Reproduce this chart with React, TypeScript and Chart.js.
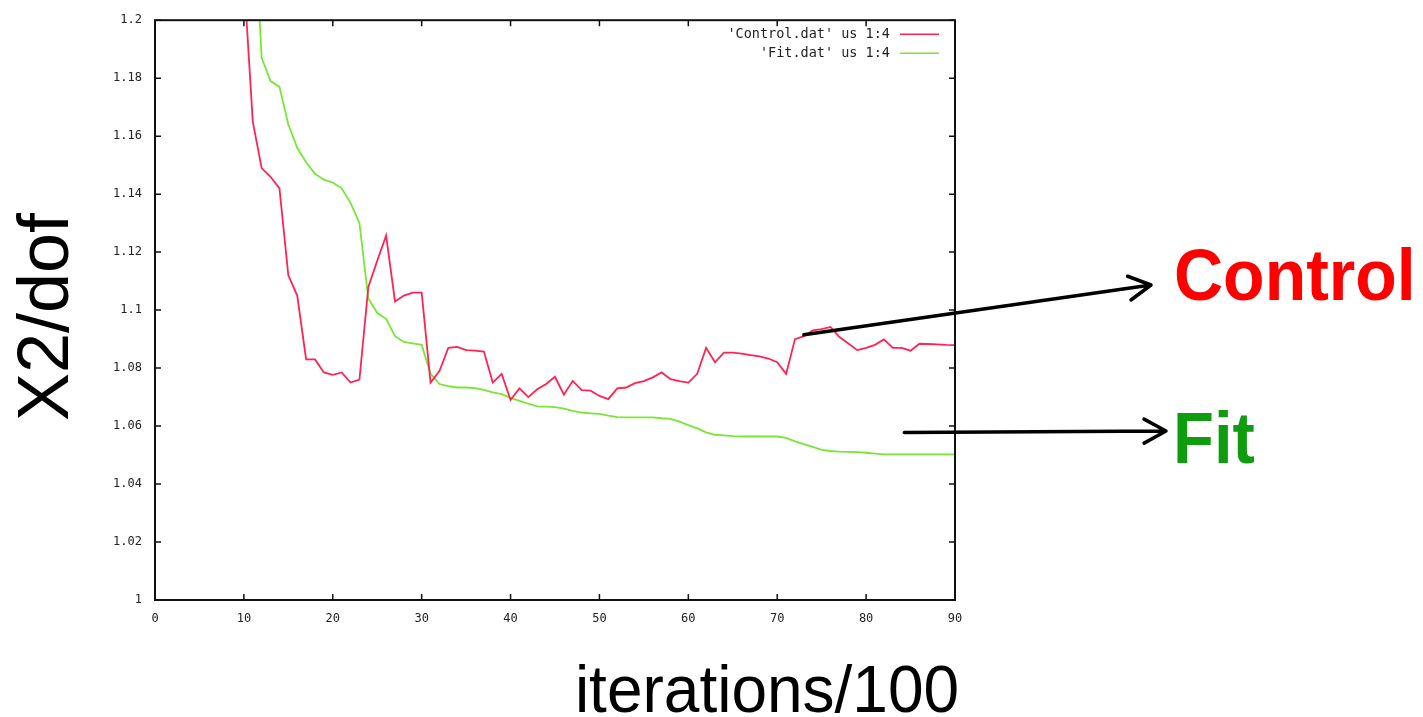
import React, { useEffect, useRef } from "react";
import { Chart, registerables } from "chart.js";

Chart.register(...registerables);

// ---- data ----
const controlIter = [
  10, 11, 12, 13, 14, 15, 16, 17, 18, 19, 20, 21, 22, 23, 24, 25, 26, 27, 28, 29,
  30, 31, 32, 33, 34, 35, 36, 37, 38, 39, 40, 41, 42, 43, 44, 45, 46, 47, 48, 49,
  50, 51, 52, 53, 54, 55, 56, 57, 58, 59, 60, 61, 62, 63, 64, 65, 66, 67, 68, 69,
  70, 71, 72, 73, 74, 75, 76, 77, 78, 79, 80, 81, 82, 83, 84, 85, 86, 87, 88, 89, 90,
];
const controlValues = [
  1.215, 1.165, 1.149, 1.146, 1.142, 1.112, 1.105, 1.083, 1.083, 1.0785,
  1.0777, 1.0785, 1.075, 1.076, 1.108, 1.117, 1.1257, 1.103, 1.105, 1.106,
  1.106, 1.075, 1.079, 1.087, 1.0873, 1.0862, 1.086, 1.0857, 1.075, 1.078,
  1.069, 1.073, 1.07, 1.0727, 1.0745, 1.077, 1.0708, 1.0756, 1.0724, 1.0722,
  1.0704, 1.0693, 1.073, 1.0733, 1.0748, 1.0755, 1.0768, 1.0785, 1.0762, 1.0755,
  1.075, 1.078, 1.087, 1.082, 1.0853, 1.0853, 1.085, 1.0845, 1.084, 1.0833,
  1.082, 1.078, 1.09, 1.091, 1.093, 1.0934, 1.0942, 1.0907, 1.0885, 1.0862,
  1.087, 1.088, 1.0899, 1.087, 1.087, 1.086, 1.0884, 1.0883, 1.0882, 1.088, 1.0879,
];
const fitIter = [
  11, 12, 13, 14, 15, 16, 17, 18, 19, 20, 21, 22, 23, 24, 25, 26, 27, 28, 29,
  30, 31, 32, 33, 34, 35, 36, 37, 38, 39, 40, 41, 42, 43, 44, 45, 46, 47, 48, 49,
  50, 51, 52, 53, 54, 55, 56, 57, 58, 59, 60, 61, 62, 63, 64, 65, 66, 67, 68, 69,
  70, 71, 72, 73, 74, 75, 76, 77, 78, 79, 80, 81, 82, 83, 84, 85, 86, 87, 88, 89, 90,
];
const fitValues = [
  1.245, 1.187, 1.179, 1.177, 1.164, 1.156, 1.151, 1.147, 1.145,
  1.144, 1.142, 1.137, 1.13, 1.104, 1.099, 1.097, 1.091, 1.089, 1.0885,
  1.088, 1.078, 1.0745, 1.0738, 1.0733, 1.0733, 1.0731, 1.0725, 1.0716, 1.071,
  1.0697, 1.0687, 1.0677, 1.0668, 1.0667, 1.0665, 1.066, 1.0652, 1.0646, 1.0644,
  1.0642, 1.0636, 1.0631, 1.063, 1.063, 1.063, 1.063, 1.0627, 1.0625, 1.0615,
  1.0603, 1.0592, 1.0578, 1.057, 1.0568, 1.0565, 1.0564, 1.0564, 1.0564, 1.0564,
  1.0564, 1.0559, 1.0547, 1.0538, 1.0528, 1.0518, 1.0514, 1.0512, 1.0511, 1.051,
  1.0508, 1.0505, 1.0502, 1.0502, 1.0502, 1.0502, 1.0502, 1.0502, 1.0502, 1.0502, 1.0502,
];
const seriesLabels = ["'Control.dat' us 1:4", "'Fit.dat' us 1:4"];
const seriesNames = ["Control", "Fit"];
const xTitle = "iterations/100";
const yTitle = "X2/dof";
const xMin = 0, xMax = 90, xStep = 10;
const yMin = 1, yMax = 1.2, yStep = 0.02;

const RED = "#ff2450";
const GREEN = "#78e636";
const TICK_FONT = "DejaVu Sans Mono";

function arrow(ctx: CanvasRenderingContext2D, x1: number, y1: number, x2: number, y2: number) {
  const ang = Math.atan2(y2 - y1, x2 - x1);
  const L = 25, spread = 0.5;
  ctx.beginPath();
  ctx.moveTo(x1, y1);
  ctx.lineTo(x2, y2);
  ctx.moveTo(x2 - L * Math.cos(ang - spread), y2 - L * Math.sin(ang - spread));
  ctx.lineTo(x2, y2);
  ctx.lineTo(x2 - L * Math.cos(ang + spread), y2 - L * Math.sin(ang + spread));
  ctx.stroke();
}

const decor = {
  id: "decor",
  afterDatasetsDraw(chart: any) {
    const { ctx, chartArea: a } = chart;
    const xs = chart.scales.x;
    const ys = chart.scales.y;
    ctx.save();
    // frame
    ctx.strokeStyle = "#111";
    ctx.lineWidth = 2;
    ctx.strokeRect(a.left, a.top, a.right - a.left, a.bottom - a.top);
    // inward ticks, mirrored
    ctx.lineWidth = 1.5;
    ctx.beginPath();
    xs.ticks.forEach((t: any) => {
      const px = xs.getPixelForValue(t.value);
      ctx.moveTo(px, a.bottom); ctx.lineTo(px, a.bottom - 6);
      ctx.moveTo(px, a.top); ctx.lineTo(px, a.top + 6);
    });
    ys.ticks.forEach((t: any) => {
      const py = ys.getPixelForValue(t.value);
      ctx.moveTo(a.left, py); ctx.lineTo(a.left + 6, py);
      ctx.moveTo(a.right, py); ctx.lineTo(a.right - 6, py);
    });
    ctx.stroke();

    // legend (gnuplot style, top-right inside)
    ctx.font = `13.5px "${TICK_FONT}"`;
    ctx.textAlign = "right";
    ctx.textBaseline = "middle";
    chart.data.datasets.forEach((ds: any, i: number) => {
      const ly = a.top + 14 + i * 19;
      ctx.fillStyle = "#222";
      ctx.fillText(ds.label, a.right - 65, ly);
      ctx.strokeStyle = ds.borderColor;
      ctx.lineWidth = 1.5;
      ctx.beginPath();
      ctx.moveTo(a.right - 55, ly);
      ctx.lineTo(a.right - 16, ly);
      ctx.stroke();
    });

    // axis titles
    ctx.fillStyle = "#000";
    ctx.textAlign = "center";
    ctx.textBaseline = "alphabetic";
    ctx.font = `64px "Liberation Sans", Arial, sans-serif`;
    ctx.save();
    ctx.translate(767, 712);
    ctx.scale(1, 1.05);
    ctx.fillText(xTitle, 0, 0);
    ctx.restore();
    ctx.save();
    ctx.translate(68, 317);
    ctx.rotate(-Math.PI / 2);
    ctx.font = `72px "Liberation Sans", Arial, sans-serif`;
    ctx.fillText(yTitle, 0, 0);
    ctx.restore();

    // annotations
    ctx.textAlign = "left";
    ctx.font = `bold 68px "Liberation Sans", Arial, sans-serif`;
    ctx.save();
    ctx.translate(1174, 300);
    ctx.scale(1, 1.05);
    ctx.fillStyle = "#ff0000";
    ctx.fillText(seriesNames[0], 0, 0);
    ctx.restore();
    ctx.font = `bold 67px "Liberation Sans", Arial, sans-serif`;
    ctx.save();
    ctx.translate(1173, 463);
    ctx.scale(1, 1.08);
    ctx.fillStyle = "#0f9d0f";
    ctx.fillText(seriesNames[1], 0, 0);
    ctx.restore();

    // arrows
    ctx.strokeStyle = "#000";
    ctx.lineWidth = 3.5;
    ctx.lineCap = "round";
    ctx.lineJoin = "round";
    arrow(ctx, xs.getPixelForValue(73), ys.getPixelForValue(1.0915), 1151, 285);
    arrow(ctx, xs.getPixelForValue(84.3), ys.getPixelForValue(1.0578), 1166, 431);
    ctx.restore();
  },
};

export default function App() {
  const ref = useRef<HTMLCanvasElement | null>(null);
  useEffect(() => {
    document.body.style.margin = "0";
    const canvas = ref.current!;
    const chart = new Chart(canvas, {
      type: "line",
      data: {
        datasets: [
          {
            label: seriesLabels[0],
            data: controlIter.map((x, i) => ({ x, y: controlValues[i] })),
            borderColor: RED,
            backgroundColor: RED,
            borderWidth: 1.8,
            pointRadius: 0,
            tension: 0,
          },
          {
            label: seriesLabels[1],
            data: fitIter.map((x, i) => ({ x, y: fitValues[i] })),
            borderColor: GREEN,
            backgroundColor: GREEN,
            borderWidth: 1.8,
            pointRadius: 0,
            tension: 0,
          },
        ],
      },
      options: {
        responsive: false,
        animation: false,
        devicePixelRatio: 1,
        layout: { padding: { left: 0, top: 18, right: 468, bottom: 67 } },
        plugins: { legend: { display: false }, tooltip: { enabled: false }, title: { display: false } },
        scales: {
          x: {
            type: "linear",
            min: xMin,
            max: xMax,
            grid: { display: false, drawTicks: false },
            border: { display: false },
            ticks: {
              stepSize: xStep,
              padding: 12,
              maxRotation: 0,
              color: "#222",
              font: { family: TICK_FONT, size: 12 },
            },
            afterFit: (s: any) => { s.height = 50; },
          },
          y: {
            type: "linear",
            min: yMin,
            max: yMax,
            grid: { display: false, drawTicks: false },
            border: { display: false },
            ticks: {
              stepSize: yStep,
              padding: 13,
              color: "#222",
              font: { family: TICK_FONT, size: 12 },
              callback: (v: any) => String(Number(Number(v).toFixed(2))),
            },
            afterFit: (s: any) => { s.width = 155; },
          },
        },
      },
      plugins: [decor],
    });
    return () => chart.destroy();
  }, []);
  return (
    <div style={{ position: "absolute", left: 0, top: 0, width: 1423, height: 717, background: "#fff" }}>
      <canvas ref={ref} width={1423} height={717} />
    </div>
  );
}
